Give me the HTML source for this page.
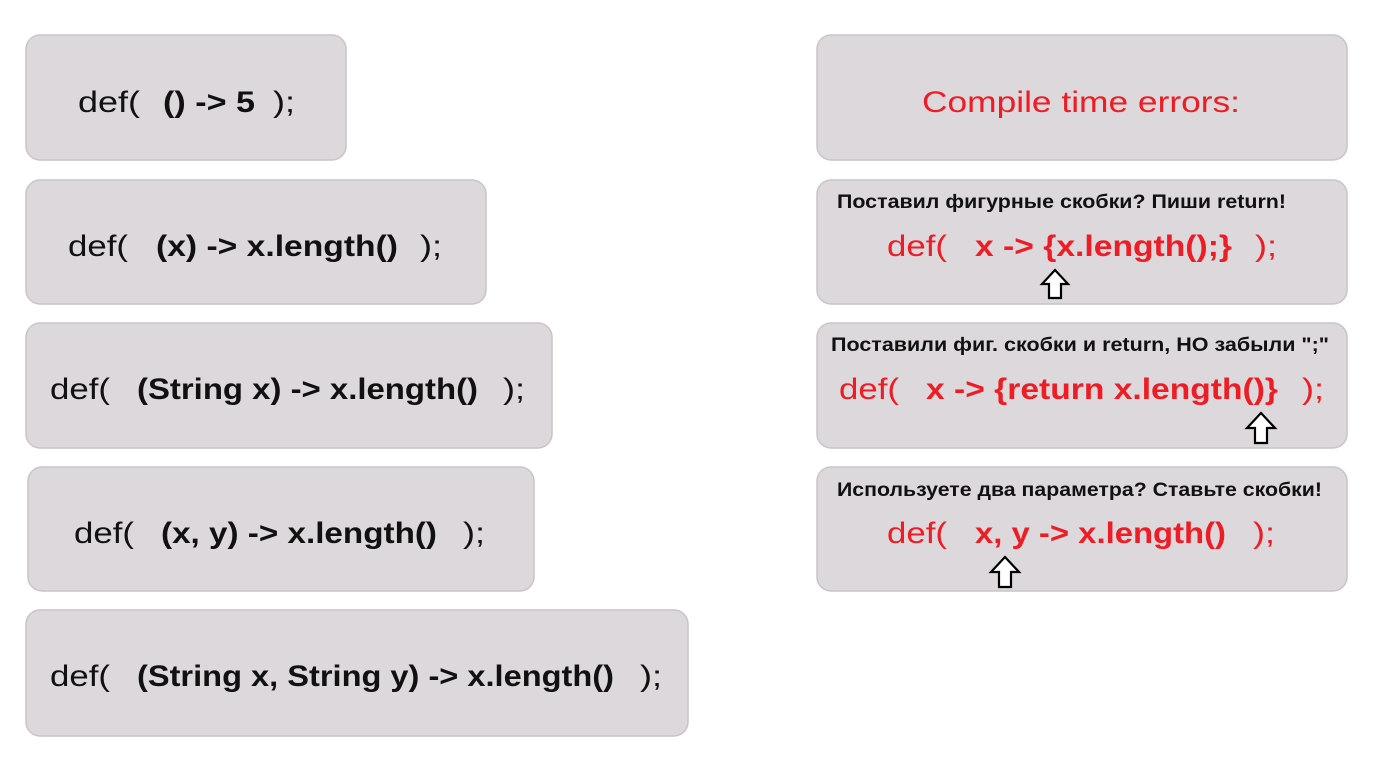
<!DOCTYPE html>
<html><head><meta charset="utf-8"><style>
html,body{margin:0;padding:0;background:#fff;}
svg{display:block;}
text{font-family:"Liberation Sans","DejaVu Sans",sans-serif;}
</style></head><body>
<svg width="1376" height="757" viewBox="0 0 1376 757" xmlns="http://www.w3.org/2000/svg">
<g fill="#dcd8db" stroke="#c9c4c7" stroke-width="1.5">
<rect x="26" y="35" width="320" height="125" rx="14"/>
<rect x="26" y="180" width="460" height="124" rx="14"/>
<rect x="26" y="323" width="526" height="125" rx="14"/>
<rect x="28" y="467" width="506" height="124" rx="14"/>
<rect x="26" y="610" width="662" height="126" rx="14"/>
<rect x="817" y="35" width="530" height="125" rx="14"/>
<rect x="817" y="180" width="530" height="124" rx="14"/>
<rect x="817" y="323" width="530" height="125" rx="14"/>
<rect x="817" y="467" width="530" height="124" rx="14"/>
</g>
<g font-size="30" fill="#111" lengthAdjust="spacingAndGlyphs">
<text x="78" y="112" textLength="62" lengthAdjust="spacingAndGlyphs">def(</text>
<text x="163" y="112" textLength="92" lengthAdjust="spacingAndGlyphs" font-weight="bold">() -&gt; 5</text>
<text x="273" y="112" textLength="22" lengthAdjust="spacingAndGlyphs">);</text>

<text x="68" y="256" textLength="60" lengthAdjust="spacingAndGlyphs">def(</text>
<text x="156" y="256" textLength="242" lengthAdjust="spacingAndGlyphs" font-weight="bold">(x) -&gt; x.length()</text>
<text x="420" y="256" textLength="22" lengthAdjust="spacingAndGlyphs">);</text>

<text x="50" y="399" textLength="60" lengthAdjust="spacingAndGlyphs">def(</text>
<text x="137" y="399" textLength="341" lengthAdjust="spacingAndGlyphs" font-weight="bold">(String x) -&gt; x.length()</text>
<text x="503" y="399" textLength="22" lengthAdjust="spacingAndGlyphs">);</text>

<text x="74" y="543" textLength="60" lengthAdjust="spacingAndGlyphs">def(</text>
<text x="161" y="543" textLength="276" lengthAdjust="spacingAndGlyphs" font-weight="bold">(x, y) -&gt; x.length()</text>
<text x="463" y="543" textLength="22" lengthAdjust="spacingAndGlyphs">);</text>

<text x="50" y="686" textLength="60" lengthAdjust="spacingAndGlyphs">def(</text>
<text x="137" y="686" textLength="477" lengthAdjust="spacingAndGlyphs" font-weight="bold">(String x, String y) -&gt; x.length()</text>
<text x="640" y="686" textLength="22" lengthAdjust="spacingAndGlyphs">);</text>
</g>
<g font-size="30" fill="#ee1c24">
<text x="922" y="112" textLength="318" lengthAdjust="spacingAndGlyphs">Compile time errors:</text>

<text x="887" y="256" textLength="60" lengthAdjust="spacingAndGlyphs">def(</text>
<text x="975" y="256" textLength="257" lengthAdjust="spacingAndGlyphs" font-weight="bold">x -&gt; {x.length();}</text>
<text x="1255" y="256" textLength="22" lengthAdjust="spacingAndGlyphs">);</text>

<text x="839" y="399" textLength="60" lengthAdjust="spacingAndGlyphs">def(</text>
<text x="926" y="399" textLength="352" lengthAdjust="spacingAndGlyphs" font-weight="bold">x -&gt; {return x.length()}</text>
<text x="1302" y="399" textLength="22" lengthAdjust="spacingAndGlyphs">);</text>

<text x="887" y="543" textLength="60" lengthAdjust="spacingAndGlyphs">def(</text>
<text x="975" y="543" textLength="251" lengthAdjust="spacingAndGlyphs" font-weight="bold">x, y -&gt; x.length()</text>
<text x="1253" y="543" textLength="22" lengthAdjust="spacingAndGlyphs">);</text>
</g>
<g font-size="19" font-weight="bold" fill="#111">
<text x="837" y="208" textLength="449" lengthAdjust="spacingAndGlyphs">Поставил фигурные скобки? Пиши return!</text>
<text x="831" y="351" textLength="498" lengthAdjust="spacingAndGlyphs">Поставили фиг. скобки и return, НО забыли ";"</text>
<text x="837" y="496" textLength="485" lengthAdjust="spacingAndGlyphs">Используете два параметра? Ставьте скобки!</text>
</g>
<g fill="#fff" stroke="#000" stroke-width="2.2" stroke-linejoin="miter">
<polygon points="1055,270 1068,284 1061,284 1061,298 1049,298 1049,284 1042,284"/>
<polygon points="1261,413 1275,428 1267,428 1267,443 1255,443 1255,428 1247,428"/>
<polygon points="1005,557 1019,572 1011,572 1011,587 999,587 999,572 991,572"/>
</g>
</svg>
</body></html>
